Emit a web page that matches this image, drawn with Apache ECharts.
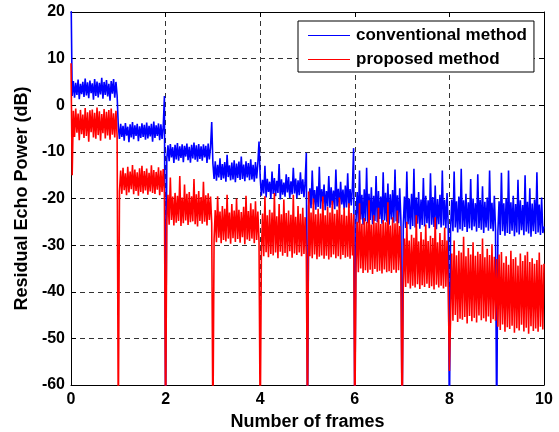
<!DOCTYPE html>
<html>
<head>
<meta charset="utf-8">
<script src="https://cdn.jsdelivr.net/npm/echarts@6/dist/echarts.min.js"></script>
<style>
html,body{margin:0;padding:0;background:#fff;}
#chart{width:559px;height:432px;}
</style>
</head>
<body>
<div id="chart"></div>
<script>
// Samples per frame (x = frame index + sample/40)
const samplesPerFrame = 40;
const xTicks = [0, 2, 4, 6, 8, 10];
const yTicks = [-60, -50, -40, -30, -20, -10, 0, 10, 20];
const seriesNames = ['conventional method', 'proposed method'];

// conventional method (blue), residual echo power in dB, one array per frame
const blueF0 = [25, 2.0, 5.2, 1.6, 4.8, 2.2, 5.5, 1.3, 4.6, 2.4, 5.0, 1.8, 5.7, 2.1, 4.9, 1.5, 5.3, 2.6, 4.7, 1.2, 5.6, 2.0, 5.1, 1.7, 4.8, 2.3, 5.9, 1.4, 5.0, 2.2, 5.4, 1.9, 4.6, 1.0, 5.2, 2.5, 5.6, 1.6, 5.0, 2.1];
const blueF1 = [-4.5, -7.2, -4.0, -6.8, -4.4, -7.6, -3.8, -6.5, -4.6, -7.9, -4.1, -6.9, -3.6, -7.3, -4.3, -6.6, -4.0, -7.7, -4.5, -7.0, -3.9, -6.8, -4.2, -7.4, -3.7, -7.1, -4.4, -6.7, -4.0, -7.8, -3.5, -7.0, -4.3, -6.6, -3.9, -7.5, -4.1, -7.2, -4.6, 2.0];
const blueF2 = [-70, -11.5, -8.6, -12.0, -8.3, -11.2, -9.0, -12.4, -8.5, -11.6, -8.1, -11.9, -8.8, -11.3, -8.4, -12.2, -8.7, -11.0, -8.2, -11.8, -8.9, -12.3, -8.5, -11.4, -8.0, -11.7, -8.6, -12.1, -8.3, -11.5, -8.8, -11.9, -8.4, -11.2, -8.7, -12.4, -8.2, -11.6, -9.0, -3.6];
const blueF3 = [-12.5, -15.8, -12.0, -16.2, -12.8, -15.5, -11.4, -16.0, -12.6, -15.7, -12.2, -16.4, -10.6, -15.4, -12.9, -16.1, -12.3, -15.9, -11.8, -16.5, -12.5, -15.6, -12.1, -16.0, -11.0, -15.8, -12.7, -16.3, -12.0, -15.5, -12.4, -16.1, -11.6, -15.9, -12.8, -16.4, -12.2, -15.7, -12.5, -7.8];
const blueF4 = [-15.5, -19.4, -16.0, -18.9, -13.0, -19.8, -15.8, -18.6, -16.4, -20.1, -14.2, -19.0, -15.6, -19.5, -16.2, -18.8, -12.6, -20.2, -15.9, -19.2, -16.6, -19.6, -14.8, -18.7, -15.4, -19.9, -16.3, -19.1, -13.4, -18.9, -15.7, -20.0, -16.1, -19.3, -14.4, -19.0, -15.9, -19.7, -16.5, -10.2];
const blueF5 = [-70, -21.6, -17.8, -22.1, -14.0, -21.3, -18.2, -22.4, -17.4, -21.8, -13.2, -22.2, -18.0, -21.1, -17.0, -22.5, -18.4, -21.7, -15.2, -22.0, -17.6, -21.4, -18.3, -22.3, -13.8, -21.7, -17.9, -22.1, -16.4, -21.3, -18.1, -22.4, -17.2, -21.9, -14.6, -22.0, -18.0, -21.5, -17.5, -9.2];
const blueF6 = [-70, -24.8, -18.6, -25.2, -14.0, -24.5, -19.2, -25.6, -18.0, -24.9, -13.4, -25.3, -19.0, -24.6, -17.6, -25.5, -19.4, -24.8, -15.2, -25.1, -18.4, -24.4, -19.6, -25.4, -14.4, -24.7, -18.8, -25.0, -16.8, -25.6, -19.1, -24.5, -18.2, -25.2, -13.8, -24.9, -19.3, -25.3, -17.8, -24.8];
const blueF7 = [-70, -25.8, -19.6, -26.3, -14.2, -25.5, -20.0, -26.6, -19.0, -25.9, -13.6, -26.2, -19.8, -25.4, -18.6, -26.5, -20.2, -25.7, -15.6, -26.0, -19.4, -25.3, -20.4, -26.4, -14.6, -25.6, -19.7, -26.1, -17.2, -26.6, -20.1, -25.5, -19.2, -26.2, -14.0, -25.8, -20.3, -26.4, -18.8, -25.9];
const blueF8 = [-70, -26.5, -20.2, -27.0, -14.2, -26.2, -20.6, -27.3, -19.6, -26.6, -13.6, -26.9, -20.4, -26.1, -19.0, -27.2, -20.8, -26.4, -15.8, -26.8, -20.0, -26.0, -21.0, -27.1, -14.8, -26.3, -20.3, -26.7, -17.4, -27.4, -20.7, -26.2, -19.8, -26.9, -14.0, -26.5, -20.9, -27.0, -19.4, -26.6];
const blueF9 = [-70, -27.2, -20.6, -27.8, -14.5, -27.0, -21.0, -28.0, -20.0, -27.4, -14.0, -27.6, -20.8, -26.9, -19.4, -28.1, -21.2, -27.3, -16.0, -27.7, -20.4, -26.8, -21.4, -27.9, -15.0, -27.1, -20.7, -27.5, -17.8, -28.2, -21.1, -27.0, -20.2, -27.6, -14.4, -27.3, -21.3, -27.8, -19.8, -27.4, -26.0];

// proposed method (red)
const redF0 = [9, -15, -1.2, -6.8, -0.7, -5.9, -1.8, -7.5, -1.0, -6.2, -2.0, -7.0, -0.6, -6.6, -1.5, -7.8, -1.1, -5.8, -0.9, -6.9, -1.6, -7.2, -0.5, -6.4, -1.3, -7.6, -1.9, -6.0, -0.8, -7.1, -1.4, -6.5, -1.0, -7.4, -0.7, -6.3, -1.7, -6.9, -1.2, -6.7];
const redF1 = [-70, -18.5, -14.0, -19.0, -13.4, -18.2, -14.6, -19.3, -13.2, -18.7, -14.2, -18.0, -12.8, -19.1, -13.8, -18.4, -14.4, -19.4, -13.5, -18.6, -13.0, -18.9, -14.1, -18.3, -13.6, -19.2, -14.5, -18.5, -12.9, -18.8, -13.9, -19.0, -14.3, -18.1, -13.3, -19.3, -14.0, -18.6, -13.7, -18.9];
const redF2 = [-70, -25.0, -19.2, -25.6, -15.5, -24.6, -19.6, -25.8, -18.8, -25.2, -19.4, -24.8, -15.2, -25.9, -19.8, -25.3, -17.0, -24.7, -19.0, -25.7, -18.6, -25.1, -19.5, -24.9, -15.8, -25.5, -19.1, -26.0, -18.4, -24.8, -19.7, -25.4, -16.4, -25.0, -19.3, -25.8, -18.9, -24.6, -19.6, -25.3];
const redF3 = [-70, -28.8, -22.5, -29.4, -19.5, -28.4, -22.8, -29.6, -21.6, -28.9, -22.2, -29.2, -19.2, -28.6, -23.0, -29.7, -21.2, -28.5, -22.6, -29.3, -20.0, -28.7, -22.4, -29.5, -22.9, -28.3, -21.8, -29.8, -19.4, -28.8, -22.7, -29.1, -21.0, -28.6, -22.3, -29.6, -20.6, -28.9, -22.8, -29.2];
const redF4 = [-70, -31.8, -23.2, -32.4, -19.5, -31.5, -23.6, -32.6, -22.4, -31.9, -23.0, -32.2, -18.8, -31.6, -23.8, -32.8, -21.2, -31.4, -23.4, -32.3, -20.2, -31.7, -23.1, -32.5, -22.6, -31.3, -23.5, -32.7, -19.2, -31.8, -23.9, -32.1, -21.6, -31.6, -23.3, -32.4, -22.0, -31.9, -24.0, -32.2];
const redF5 = [-70, -18.5, -32.4, -23.0, -32.8, -20.0, -32.0, -23.4, -33.0, -22.2, -32.5, -23.2, -32.2, -19.6, -32.9, -23.6, -32.3, -21.8, -33.1, -23.0, -32.6, -20.5, -32.0, -23.3, -32.8, -22.4, -32.4, -19.8, -33.0, -23.5, -32.1, -22.0, -32.7, -23.7, -32.5, -21.0, -32.9, -23.1, -32.2, -23.4];
const redF6 = [-70, -35.2, -25.0, -35.8, -21.0, -35.0, -25.4, -36.0, -24.2, -35.4, -25.0, -35.9, -20.4, -35.3, -25.6, -36.2, -23.6, -35.1, -25.2, -35.7, -22.0, -35.5, -25.5, -36.1, -24.6, -35.2, -25.1, -35.8, -20.8, -35.6, -25.8, -36.0, -24.0, -35.3, -25.3, -35.9, -22.6, -35.4, -25.9, -35.7];
const redF7 = [-70, -38.5, -28.6, -39.0, -25.0, -38.2, -29.0, -39.3, -27.8, -38.7, -28.4, -39.1, -23.6, -38.4, -29.2, -39.4, -27.2, -38.6, -28.8, -39.0, -25.6, -38.3, -29.1, -39.2, -28.0, -38.8, -28.5, -39.5, -24.0, -38.5, -29.4, -39.1, -27.4, -38.7, -28.9, -39.3, -26.2, -38.9, -29.0, -39.0];
const redF8 = [-57, -45.5, -31.8, -46.2, -29.0, -45.0, -32.2, -46.5, -31.2, -45.8, -31.6, -46.0, -28.2, -45.4, -32.4, -46.8, -30.6, -45.2, -32.0, -46.3, -29.4, -45.6, -32.3, -46.6, -31.4, -45.1, -31.9, -46.1, -28.6, -45.7, -32.6, -46.4, -30.8, -45.3, -32.1, -46.7, -29.8, -45.9, -32.5, -46.2];
const redF9 = [-33.0, -47.5, -32.0, -48.2, -31.5, -47.0, -33.8, -48.6, -32.4, -47.6, -34.2, -48.0, -31.2, -47.3, -33.0, -48.8, -32.6, -47.8, -34.4, -48.3, -31.8, -47.1, -33.4, -48.5, -32.2, -47.7, -31.4, -49.0, -33.6, -47.4, -32.8, -48.4, -34.0, -47.9, -33.2, -48.6, -31.6, -47.5, -34.2, -48.1, -34.0];

const blueFrames = [blueF0, blueF1, blueF2, blueF3, blueF4, blueF5, blueF6, blueF7, blueF8, blueF9];
const redFrames = [redF0, redF1, redF2, redF3, redF4, redF5, redF6, redF7, redF8, redF9];

function toPairs(frames) {
  const out = [];
  frames.forEach((arr, f) => {
    arr.forEach((v, i) => out.push([f + i / samplesPerFrame, v]));
  });
  return out;
}

const FONT = 'Arial, "Liberation Sans", Helvetica, sans-serif';
const chart = echarts.init(document.getElementById('chart'), null, {renderer: 'canvas'});

const baseAxisLabel = {color: '#000', fontFamily: FONT, fontWeight: 'bold', fontSize: 16};
const dashed = {show: true, lineStyle: {color: '#333', type: [5, 4], width: 1}};

chart.setOption({
  animation: false,
  backgroundColor: '#fff',
  grid: {left: 71, right: 15, top: 12, bottom: 47, show: false, containLabel: false, outerBoundsMode: 'none'},
  legend: {
    orient: 'vertical',
    left: 298,
    top: 21,
    padding: [6, 7, 4, 10],
    itemGap: 7,
    itemWidth: 42,
    itemHeight: 1,
    icon: 'rect',
    backgroundColor: '#fff',
    borderColor: '#000',
    borderWidth: 1,
    borderRadius: 0,
    z: 10,
    textStyle: {color: '#000', fontFamily: FONT, fontWeight: 'bold', fontSize: 17, padding: [0, 0, 0, 1]},
    data: seriesNames
  },
  xAxis: [{
    type: 'value', min: 0, max: 10, interval: 2, position: 'bottom',
    name: 'Number of frames', nameLocation: 'middle', nameGap: 26,
    nameTextStyle: {color: '#000', fontFamily: FONT, fontWeight: 'bold', fontSize: 18},
    axisLine: {show: true, onZero: false, lineStyle: {color: '#000', width: 1}},
    axisTick: {show: true, inside: true, length: 5, lineStyle: {color: '#000'}},
    axisLabel: Object.assign({margin: 7, formatter: v => xTicks.includes(v) ? String(v) : ''}, baseAxisLabel),
    splitLine: dashed
  }, {
    type: 'value', min: 0, max: 10, interval: 2, position: 'top',
    axisLine: {show: true, onZero: false, lineStyle: {color: '#000', width: 1}},
    axisTick: {show: true, inside: true, length: 5, lineStyle: {color: '#000'}},
    axisLabel: {show: false}, splitLine: {show: false}
  }],
  yAxis: [{
    type: 'value', min: -60, max: 20, interval: 10, position: 'left',
    name: 'Residual Echo Power (dB)', nameLocation: 'middle', nameGap: 28,
    nameTextStyle: {color: '#000', fontFamily: FONT, fontWeight: 'bold', fontSize: 18},
    axisLine: {show: true, onZero: false, lineStyle: {color: '#000', width: 1}},
    axisTick: {show: true, inside: true, length: 5, lineStyle: {color: '#000'}},
    axisLabel: Object.assign({margin: 6, formatter: v => yTicks.includes(v) ? String(v) : ''}, baseAxisLabel),
    splitLine: dashed
  }, {
    type: 'value', min: -60, max: 20, interval: 10, position: 'right',
    axisLine: {show: true, onZero: false, lineStyle: {color: '#000', width: 1}},
    axisTick: {show: true, inside: true, length: 5, lineStyle: {color: '#000'}},
    axisLabel: {show: false}, splitLine: {show: false}
  }],
  series: [{
    name: seriesNames[0], type: 'line', xAxisIndex: 0, yAxisIndex: 0,
    data: toPairs(blueFrames), showSymbol: false, symbol: 'none', clip: true,
    lineStyle: {color: '#0000ff', width: 1.6}, itemStyle: {color: '#0000ff'}, z: 3
  }, {
    name: seriesNames[1], type: 'line', xAxisIndex: 0, yAxisIndex: 0,
    data: toPairs(redFrames), showSymbol: false, symbol: 'none', clip: true,
    lineStyle: {color: '#ff0000', width: 1.6}, itemStyle: {color: '#ff0000'}, z: 4
  }]
});
</script>
</body>
</html>
